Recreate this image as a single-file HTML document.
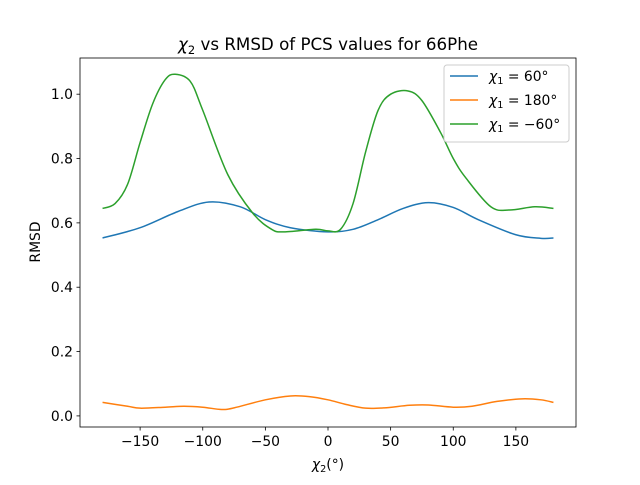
<!DOCTYPE html>
<html><head><meta charset="utf-8"><style>
body{margin:0;background:#fff}
svg{font-family:"DejaVu Sans","Liberation Sans",sans-serif}
</style></head><body>
<svg id="chart" width="640" height="480">
<rect width="640" height="480" fill="#fff"/>
<g id="plot"></g>
</svg>
<script>
const blueX=[-180,-150,-120,-95,-70,-50,-30,0,20,40,60,80,100,120,150,170,180];
const blueY=[0.553,0.585,0.635,0.665,0.65,0.61,0.585,0.572,0.58,0.61,0.645,0.663,0.648,0.61,0.563,0.552,0.553];
const orangeX=[-180,-160,-150,-130,-115,-100,-85,-75,-50,-30,-15,0,15,30,45,65,80,100,115,135,155,170,180];
const orangeY=[0.042,0.03,0.024,0.027,0.03,0.027,0.02,0.025,0.05,0.062,0.06,0.05,0.035,0.024,0.025,0.033,0.034,0.027,0.03,0.045,0.053,0.05,0.042];
const greenX=[-180,-170,-160,-150,-140,-130,-122,-110,-100,-80,-60,-45,-35,-10,0,10,20,30,40,50,64,75,90,100,110,130,145,165,180];
const greenY=[0.645,0.66,0.72,0.85,0.97,1.045,1.062,1.04,0.95,0.75,0.63,0.58,0.572,0.58,0.575,0.58,0.66,0.82,0.95,1.0,1.01,0.98,0.88,0.8,0.74,0.65,0.64,0.65,0.645];
const xTicks=[-150,-100,-50,0,50,100,150];
const yTicks=[0,0.2,0.4,0.6,0.8,1.0];
const X0=80,X1=576,Y0=58,Y1=427,xmin=-198,xmax=198,ymin=-0.0345,ymax=1.1125;
const sx=v=>X0+(v-xmin)/(xmax-xmin)*(X1-X0);
const sy=v=>Y1-(v-ymin)/(ymax-ymin)*(Y1-Y0);
const NS="http://www.w3.org/2000/svg";
const g=document.getElementById('plot');
function el(t,a,txt){const e=document.createElementNS(NS,t);for(const k in a)e.setAttribute(k,a[k]);if(txt!==undefined)e.textContent=txt;g.appendChild(e);return e;}
function path(xs,ys){const p=xs.map((x,i)=>[sx(x),sy(ys[i])]);let d=`M${p[0][0]},${p[0][1]}`;
for(let i=0;i<p.length-1;i++){const a=p[Math.max(0,i-1)],b=p[i],c=p[i+1],e=p[Math.min(p.length-1,i+2)];
d+=` C${b[0]+(c[0]-a[0])/6},${b[1]+(c[1]-a[1])/6} ${c[0]-(e[0]-b[0])/6},${c[1]-(e[1]-b[1])/6} ${c[0]},${c[1]}`;}return d;}
const series=[[blueX,blueY,'#1f77b4','series-chi1-60'],[orangeX,orangeY,'#ff7f0e','series-chi1-180'],[greenX,greenY,'#2ca02c','series-chi1-minus60']];
series.forEach(s=>{const e=el('path',{d:path(s[0],s[1]),fill:'none',stroke:s[2],'stroke-width':1.5});

});
const frame=el('rect',{x:X0,y:Y0,width:X1-X0,height:Y1-Y0,fill:'none',stroke:'#000','stroke-width':0.8});


xTicks.forEach(t=>{const x=sx(t);el('line',{x1:x,x2:x,y1:Y1,y2:Y1+3.5,stroke:'#000','stroke-width':0.8});
const l=el('text',{x:x,y:Y1+19,'text-anchor':'middle','font-size':13.9},t<0?'\u2212'+(-t):String(t));

});
yTicks.forEach(t=>{const y=sy(t);el('line',{x1:X0-3.5,x2:X0,y1:y,y2:y,stroke:'#000','stroke-width':0.8});
const l=el('text',{x:X0-7,y:y+5,'text-anchor':'end','font-size':13.9},t.toFixed(1));

});
const tt=el('text',{x:328,y:50,'text-anchor':'middle','font-size':16.7});
tt.innerHTML='<tspan font-style="italic">χ</tspan><tspan font-size="11.5" dy="4">2</tspan><tspan dy="-4"> vs RMSD of PCS values for 66Phe</tspan>';


const xl=el('text',{x:328,y:469,'text-anchor':'middle','font-size':13.9});
xl.innerHTML='<tspan font-style="italic">χ</tspan><tspan font-size="9.7" dy="3">2</tspan><tspan dy="-3">(°)</tspan>';


const yl=el('text',{x:40,y:242,'text-anchor':'middle','font-size':13.9,transform:'rotate(-90 40 242)'},'RMSD');


const lg=el('rect',{x:444,y:65,width:125,height:77,rx:3,fill:'#fff','fill-opacity':0.8,stroke:'#ccc','stroke-width':1});


const labels=['= 60°','= 180°','= \u221260°'];
series.forEach((s,i)=>{const y=76+i*24;el('line',{x1:450,x2:478,y1:y,y2:y,stroke:s[2],'stroke-width':1.5});
const t=el('text',{x:489,y:y+5,'font-size':13.9});
t.innerHTML='<tspan font-style="italic">χ</tspan><tspan font-size="9.7" dy="3">1</tspan><tspan dy="-3"> '+labels[i]+'</tspan>';

});
</script>
</body></html>
